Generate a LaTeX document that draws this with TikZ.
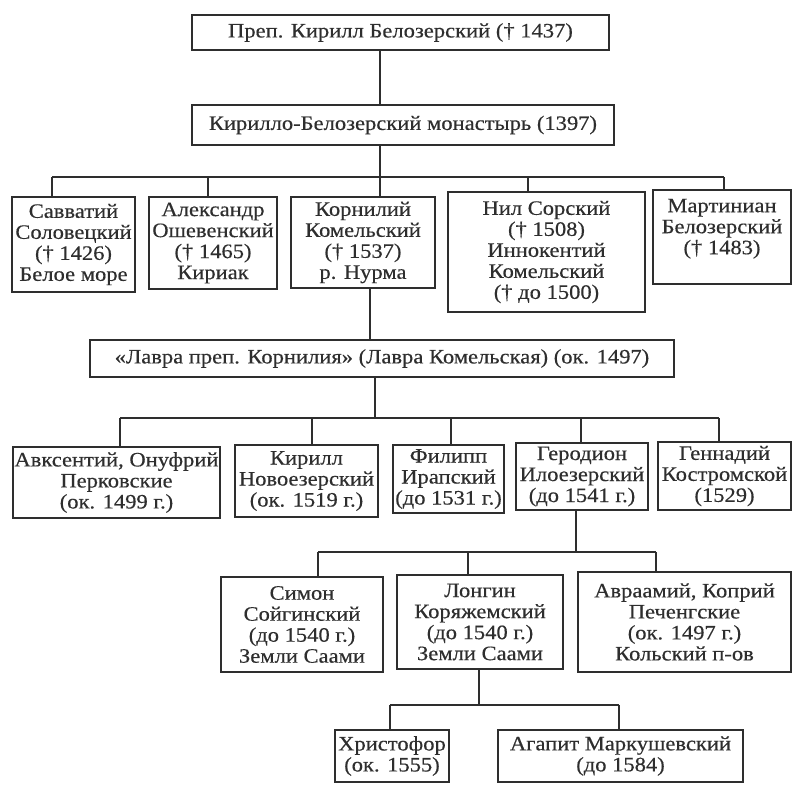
\documentclass[tikz,border=0pt]{standalone}
\usepackage{fontspec}
\setmainfont{Liberation Serif}[FakeStretch=1.1, FakeBold=0.4]
\usepackage{tikz}
\definecolor{ink}{rgb}{0.18, 0.18, 0.18}
\tikzset{box/.style = {draw = ink, line width = 1.3pt, align = center, inner sep = 0,
                       text = ink, font = \fontsize{20.5}{21}\selectfont}}
\tikzset{link/.style = {draw = ink, line width = 1.3pt}}

\begin{document}
\begin{tikzpicture}[x = 1pt, y = -1pt]
        \useasboundingbox (0, 0) rectangle (792, 784);

        \node [box, minimum width = 417, minimum height = 35] (kirill) at (400.5, 32.5)
              {Преп. Кирилл Белозерский († 1437)};
        \node [box, minimum width = 422, minimum height = 40] (monast) at (403, 125)
              {Кирилло-Белозерский монастырь (1397)};

        \node [box, minimum width = 123, minimum height = 95] (savv) at (73.5, 244.5)
              {Савватий\\Соловецкий\\(† 1426)\\Белое море};
        \node [box, minimum width = 128, minimum height = 92] (alex) at (213, 243)
              {Александр\\Ошевенский\\(† 1465)\\Кириак};
        \node [box, minimum width = 144, minimum height = 91] (korn) at (363, 242.5)
              {Корнилий\\Комельский\\(† 1537)\\р. Нурма};
        \node [box, minimum width = 197, minimum height = 120] (nil) at (546.5, 252)
              {Нил Сорский\\(† 1508)\\Иннокентий\\Комельский\\(† до 1500)};
        \node [box, minimum width = 138, minimum height = 94] (mart) at (722, 237)
              {Мартиниан\\Белозерский\\(† 1483)\\\mbox{}};

        \node [box, minimum width = 584, minimum height = 37] (lavra) at (382, 358.5)
              {«Лавра преп. Корнилия» (Лавра Комельская) (ок. 1497)};

        \node [box, minimum width = 207, minimum height = 71] (avks) at (116.5, 482.5)
              {Авксентий, Онуфрий\\Перковские\\(ок. 1499 г.)};
        \node [box, minimum width = 143, minimum height = 72] (kir) at (306.5, 481)
              {Кирилл\\Новоезерский\\(ок. 1519 г.)};
        \node [box, minimum width = 111, minimum height = 68] (fil) at (448.5, 479)
              {Филипп\\Ирапский\\(до 1531 г.)};
        \node [box, minimum width = 132, minimum height = 67] (ger) at (582, 476.5)
              {Геродион\\Илоезерский\\(до 1541 г.)};
        \node [box, minimum width = 133, minimum height = 68] (gen) at (724.5, 476)
              {Геннадий\\Костромской\\(1529)};

        \node [box, minimum width = 162, minimum height = 95] (sim) at (302, 624.5)
              {Симон\\Сойгинский\\(до 1540 г.)\\Земли Саами};
        \node [box, minimum width = 166, minimum height = 94] (lon) at (480, 622)
              {Лонгин\\Коряжемский\\(до 1540 г.)\\Земли Саами};
        \node [box, minimum width = 213, minimum height = 100] (avr) at (684.5, 622)
              {Авраамий, Коприй\\Печенгские\\(ок. 1497 г.)\\Кольский п-ов};

        \node [box, minimum width = 114, minimum height = 52] (chr) at (392, 756)
              {Христофор\\(ок. 1555)};
        \node [box, minimum width = 245, minimum height = 52] (aga) at (620.5, 756)
              {Агапит Маркушевский\\(до 1584)};

        % first level
        \coordinate (a0) at (380, 177);
        \coordinate (a1) at (52, 177);
        \coordinate (a2) at (208, 177);
        \coordinate (a3) at (528, 177);
        \coordinate (a4) at (724, 177);
        \draw [link] (kirill.south -| a0) -- (monast.north -| a0);
        \draw [link] (monast.south -| a0) -- (a0);
        \draw [link] (a1) -- (a4);
        \foreach \n/\c in {savv/a1, alex/a2, korn/a0, nil/a3, mart/a4}
            \draw [link] (\c) -- (\n.north -| \c);

        % lavra
        \coordinate (k0) at (370, 320);
        \draw [link] (korn.south -| k0) -- (lavra.north -| k0);

        \coordinate (b0) at (375, 418);
        \coordinate (b1) at (120, 418);
        \coordinate (b2) at (312, 418);
        \coordinate (b3) at (451, 418);
        \coordinate (b4) at (581, 418);
        \coordinate (b5) at (719, 418);
        \draw [link] (lavra.south -| b0) -- (b0);
        \draw [link] (b1) -- (b5);
        \foreach \n/\c in {avks/b1, kir/b2, fil/b3, ger/b4, gen/b5}
            \draw [link] (\c) -- (\n.north -| \c);

        % gerodion
        \coordinate (c0) at (576, 552);
        \coordinate (c1) at (318, 552);
        \coordinate (c2) at (468, 552);
        \coordinate (c3) at (656, 552);
        \draw [link] (ger.south -| c0) -- (c0);
        \draw [link] (c1) -- (c3);
        \foreach \n/\c in {sim/c1, lon/c2, avr/c3}
            \draw [link] (\c) -- (\n.north -| \c);

        % longin
        \coordinate (d0) at (479, 705);
        \coordinate (d1) at (390, 705);
        \coordinate (d2) at (619, 705);
        \draw [link] (lon.south -| d0) -- (d0);
        \draw [link] (d1) -- (d2);
        \foreach \n/\c in {chr/d1, aga/d2}
            \draw [link] (\c) -- (\n.north -| \c);
\end{tikzpicture}
\end{document}
